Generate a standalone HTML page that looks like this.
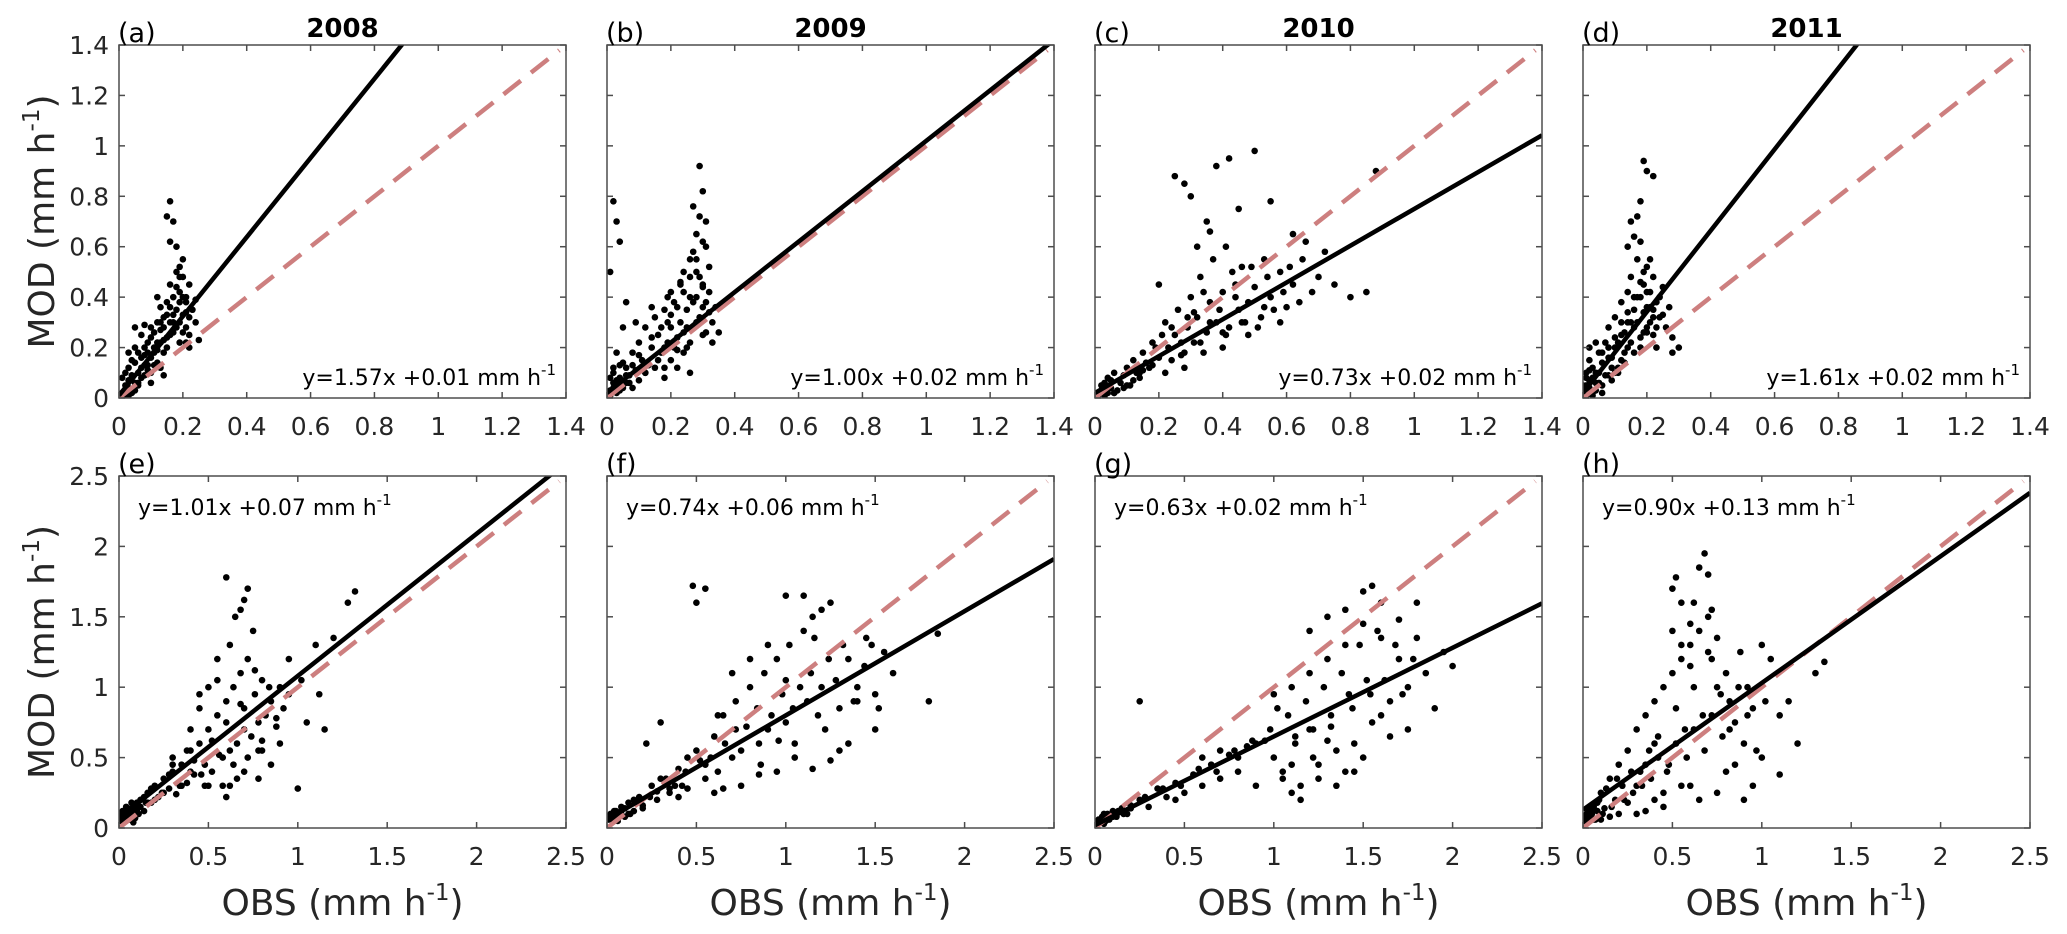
<!DOCTYPE html>
<html><head><meta charset="utf-8"><style>
html,body{margin:0;padding:0;background:#fff;}
svg{display:block;font-family:"DejaVu Sans","Liberation Sans",sans-serif;}
</style></head><body>
<svg id="fig" width="2067" height="934" viewBox="0 0 2067 934" xmlns="http://www.w3.org/2000/svg"></svg>
<script>
// ---- data ----
const years = ["2008","2009","2010","2011"];
const panelLetters = ["(a)","(b)","(c)","(d)","(e)","(f)","(g)","(h)"];
const slopes = [1.57,1.00,0.73,1.61,1.01,0.74,0.63,0.90];
const intercepts = [0.01,0.02,0.02,0.02,0.07,0.06,0.02,0.13];
const eqLabels = ["y=1.57x +0.01 mm h","y=1.00x +0.02 mm h","y=0.73x +0.02 mm h","y=1.61x +0.02 mm h","y=1.01x +0.07 mm h","y=0.74x +0.06 mm h","y=0.63x +0.02 mm h","y=0.90x +0.13 mm h"];
const topTicks = [0,0.2,0.4,0.6,0.8,1,1.2,1.4];
const topTickLabels = ["0","0.2","0.4","0.6","0.8","1","1.2","1.4"];
const botTicks = [0,0.5,1,1.5,2,2.5];
const botTickLabels = ["0","0.5","1","1.5","2","2.5"];
const topMax = 1.4, botMax = 2.5;

const obsA=[0.01,0.02,0.02,0.03,0.03,0.04,0.04,0.05,0.05,0.06,0.06,0.07,0.07,0.08,0.08,0.09,0.09,0.10,0.10,0.11,0.11,0.12,0.12,0.13,0.13,0.14,0.14,0.15,0.15,0.16,0.16,0.17,0.17,0.18,0.18,0.19,0.19,0.20,0.20,0.21,0.21,0.22,0.22,0.23,0.24,0.25,0.15,0.16,0.17,0.16,0.18,0.19,0.20,0.21,0.12,0.08,0.05,0.03,0.01,0.02,0.10,0.14,0.22,0.24,0.19,0.13,
0.02,0.03,0.04,0.05,0.06,0.07,0.08,0.09,0.10,0.11,0.12,0.13,0.14,0.15,0.16,0.17,0.18,0.19,0.20,0.21,0.03,0.05,0.07,0.09,0.11,0.13,0.15,0.17,0.19,0.21,0.04,0.06,0.08,0.10,0.12,0.14,0.16,0.18,0.20,0.22];
const modA=[0.02,0.05,0.10,0.04,0.12,0.08,0.15,0.06,0.20,0.10,0.18,0.12,0.25,0.09,0.17,0.22,0.13,0.28,0.16,0.20,0.26,0.14,0.30,0.22,0.36,0.18,0.28,0.33,0.24,0.45,0.30,0.40,0.26,0.35,0.50,0.30,0.42,0.33,0.55,0.28,0.38,0.45,0.25,0.35,0.30,0.23,0.72,0.78,0.70,0.62,0.60,0.52,0.48,0.40,0.40,0.29,0.28,0.18,0.08,0.01,0.06,0.09,0.20,0.39,0.22,0.12,
0.03,0.07,0.02,0.14,0.05,0.16,0.20,0.11,0.24,0.18,0.22,0.27,0.32,0.20,0.36,0.30,0.28,0.38,0.26,0.34,0.01,0.03,0.08,0.18,0.13,0.30,0.38,0.33,0.48,0.22,0.09,0.06,0.13,0.10,0.19,0.23,0.25,0.44,0.40,0.32];
const obsB=[0.01,0.02,0.03,0.02,0.04,0.05,0.05,0.06,0.07,0.08,0.09,0.10,0.10,0.11,0.12,0.13,0.14,0.15,0.15,0.16,0.17,0.18,0.19,0.20,0.20,0.21,0.22,0.23,0.24,0.25,0.25,0.26,0.27,0.28,0.28,0.29,0.30,0.30,0.31,0.32,0.33,0.34,0.28,0.29,0.30,0.31,0.27,0.26,0.29,0.31,0.02,0.03,0.04,0.01,0.06,0.08,0.12,0.18,0.22,0.24,0.26,0.33,0.35,0.03,0.05,0.09,0.14,0.19,0.23,0.27,0.30,0.32,
0.01,0.02,0.03,0.04,0.05,0.06,0.07,0.01,0.02,0.03,0.04,0.06,0.08,0.10,0.12,0.14,0.16,0.18,0.20,0.22,0.24,0.26,0.28,0.30,0.32,0.17,0.19,0.21,0.23,0.25,0.27,0.29,0.31,0.22,0.26,0.28,0.30,0.24,0.20,0.18];
const modB=[0.03,0.06,0.02,0.10,0.08,0.14,0.04,0.12,0.09,0.18,0.11,0.22,0.07,0.15,0.28,0.13,0.20,0.32,0.12,0.25,0.18,0.35,0.22,0.28,0.15,0.38,0.24,0.30,0.42,0.20,0.35,0.48,0.28,0.40,0.55,0.32,0.45,0.25,0.38,0.52,0.30,0.36,0.65,0.72,0.82,0.60,0.76,0.55,0.92,0.70,0.78,0.70,0.62,0.50,0.38,0.04,0.10,0.08,0.12,0.18,0.10,0.22,0.26,0.18,0.28,0.30,0.36,0.40,0.46,0.58,0.44,0.34,
0.01,0.04,0.07,0.03,0.05,0.09,0.06,0.08,0.12,0.05,0.13,0.06,0.13,0.17,0.10,0.24,0.15,0.20,0.33,0.19,0.26,0.22,0.30,0.36,0.42,0.28,0.30,0.20,0.45,0.28,0.38,0.48,0.26,0.36,0.40,0.50,0.62,0.50,0.42,0.12];
const obsC=[0.01,0.02,0.03,0.04,0.05,0.06,0.08,0.10,0.12,0.14,0.15,0.17,0.18,0.20,0.22,0.23,0.25,0.26,0.28,0.29,0.30,0.31,0.32,0.33,0.35,0.36,0.37,0.38,0.40,0.41,0.42,0.44,0.45,0.46,0.48,0.50,0.52,0.54,0.55,0.58,0.60,0.62,0.65,0.68,0.70,0.75,0.80,0.85,0.88,0.25,0.28,0.30,0.35,0.38,0.42,0.45,0.50,0.55,0.62,0.66,0.72,0.06,0.10,0.14,0.18,0.22,0.27,0.33,0.40,0.47,0.53,0.58,0.32,0.36,0.20,
0.01,0.02,0.03,0.04,0.05,0.07,0.09,0.11,0.13,0.16,0.19,0.21,0.24,0.27,0.29,0.31,0.34,0.36,0.39,0.41,0.43,0.46,0.49,0.51,0.53,0.56,0.59,0.61,0.64,0.03,0.06,0.09,0.12,0.15,0.24,0.28,0.34,0.40,0.44,0.48];
const modC=[0.02,0.05,0.01,0.08,0.04,0.10,0.06,0.12,0.15,0.08,0.18,0.12,0.22,0.16,0.30,0.20,0.25,0.35,0.18,0.28,0.40,0.22,0.32,0.48,0.26,0.38,0.55,0.30,0.42,0.60,0.28,0.45,0.35,0.52,0.38,0.44,0.32,0.48,0.40,0.50,0.36,0.45,0.55,0.42,0.48,0.45,0.40,0.42,0.90,0.88,0.85,0.80,0.70,0.92,0.95,0.75,0.98,0.78,0.65,0.62,0.58,0.02,0.05,0.10,0.13,0.10,0.17,0.22,0.26,0.30,0.36,0.30,0.60,0.66,0.45,
0.01,0.03,0.06,0.02,0.07,0.03,0.09,0.05,0.10,0.14,0.20,0.25,0.15,0.22,0.32,0.34,0.18,0.30,0.35,0.25,0.50,0.30,0.52,0.28,0.55,0.35,0.42,0.52,0.38,0.00,0.02,0.04,0.07,0.11,0.28,0.12,0.42,0.20,0.40,0.25];
const obsD=[0.00,0.01,0.01,0.02,0.02,0.03,0.03,0.04,0.05,0.05,0.06,0.07,0.08,0.08,0.09,0.10,0.10,0.11,0.12,0.12,0.13,0.14,0.14,0.15,0.15,0.16,0.16,0.17,0.17,0.18,0.18,0.19,0.19,0.20,0.20,0.21,0.21,0.22,0.22,0.23,0.24,0.25,0.26,0.27,0.28,0.30,0.18,0.19,0.20,0.22,0.15,0.17,0.16,0.14,0.02,0.04,0.06,0.09,0.11,0.13,0.18,0.20,0.23,0.25,0.28,0.01,0.03,
0.00,0.01,0.01,0.02,0.02,0.03,0.04,0.05,0.06,0.07,0.08,0.09,0.10,0.11,0.12,0.13,0.14,0.15,0.16,0.17,0.18,0.19,0.20,0.21,0.22,0.23,0.24,0.18,0.20,0.22,0.16,0.14,0.12,0.10,0.08,0.06,0.04,0.02,0.19,0.21];
const modD=[0.02,0.10,0.05,0.15,0.03,0.08,0.12,0.06,0.18,0.10,0.14,0.22,0.09,0.28,0.16,0.20,0.32,0.12,0.25,0.38,0.18,0.30,0.42,0.22,0.48,0.28,0.35,0.55,0.30,0.40,0.62,0.26,0.45,0.36,0.52,0.30,0.42,0.48,0.25,0.38,0.32,0.44,0.28,0.36,0.24,0.20,0.78,0.94,0.90,0.88,0.70,0.72,0.64,0.60,0.20,0.22,0.05,0.07,0.10,0.14,0.20,0.26,0.20,0.33,0.18,0.01,0.02,
0.05,0.01,0.08,0.04,0.11,0.01,0.03,0.06,0.02,0.09,0.16,0.12,0.10,0.22,0.15,0.26,0.20,0.30,0.18,0.40,0.24,0.34,0.28,0.36,0.32,0.28,0.40,0.46,0.42,0.35,0.40,0.34,0.30,0.24,0.20,0.18,0.10,0.07,0.50,0.55];
const obsE=[0.01,0.02,0.03,0.04,0.05,0.06,0.07,0.08,0.10,0.12,0.14,0.16,0.18,0.20,0.22,0.25,0.28,0.30,0.32,0.35,0.38,0.40,0.42,0.45,0.48,0.50,0.52,0.55,0.58,0.60,0.62,0.64,0.66,0.68,0.70,0.72,0.74,0.76,0.78,0.80,0.82,0.85,0.88,0.90,0.92,0.95,1.00,1.05,1.10,1.15,1.20,1.28,1.32,0.60,0.65,0.68,0.70,0.72,0.55,0.62,0.75,0.45,0.50,0.40,0.58,0.66,0.80,0.85,0.90,0.30,0.35,0.25,0.15,0.05,0.08,0.10,1.02,0.95,1.12,0.60,0.70,0.78,0.48,
0.01,0.02,0.03,0.04,0.05,0.06,0.07,0.08,0.09,0.10,0.11,0.12,0.14,0.16,0.18,0.20,0.24,0.28,0.34,0.38,0.42,0.46,0.52,0.56,0.60,0.64,0.68,0.72,0.76,0.80,0.84,0.88,0.45,0.55,0.62,0.70,0.78,0.50,0.40,0.30];
const modE=[0.05,0.10,0.08,0.15,0.12,0.06,0.18,0.10,0.14,0.20,0.12,0.25,0.18,0.30,0.22,0.35,0.28,0.40,0.24,0.45,0.32,0.55,0.38,0.60,0.45,0.70,0.40,0.80,0.50,0.90,0.55,1.00,0.60,1.10,0.70,1.20,0.65,0.95,0.75,1.05,0.80,0.90,0.72,1.00,0.85,0.95,0.28,0.75,1.30,0.70,1.35,1.60,1.68,1.78,1.50,1.55,1.62,1.70,1.20,1.30,1.40,0.85,1.00,0.70,0.30,0.35,0.55,0.45,0.60,0.50,0.30,0.25,0.18,0.10,0.04,0.12,1.05,1.20,0.95,0.22,0.40,0.35,0.30,
0.08,0.12,0.05,0.10,0.14,0.09,0.12,0.16,0.07,0.18,0.10,0.15,0.22,0.18,0.28,0.20,0.25,0.38,0.30,0.55,0.48,0.38,0.62,0.52,0.75,0.45,0.88,0.50,1.12,0.62,1.00,0.78,0.95,1.05,0.30,0.85,0.55,0.30,0.40,0.45];
const obsF=[0.02,0.04,0.05,0.07,0.08,0.10,0.12,0.15,0.18,0.20,0.25,0.28,0.30,0.35,0.40,0.42,0.45,0.50,0.55,0.60,0.62,0.65,0.70,0.72,0.75,0.80,0.85,0.88,0.90,0.95,1.00,1.02,1.05,1.10,1.12,1.15,1.20,1.22,1.25,1.30,1.35,1.40,1.45,1.50,1.55,1.60,1.80,1.85,0.48,0.50,0.55,0.30,0.22,1.20,1.10,1.00,0.90,0.80,0.70,1.30,1.40,1.50,0.60,0.55,0.45,0.40,0.35,0.15,0.12,0.06,1.05,0.95,0.85,1.25,1.35,1.15,0.75,0.65,
0.01,0.02,0.03,0.04,0.05,0.06,0.08,0.10,0.13,0.16,0.20,0.24,0.28,0.33,0.38,0.44,0.52,0.58,0.66,0.72,0.78,0.84,0.92,0.98,1.04,1.08,1.14,1.18,1.24,1.28,1.32,1.38,1.44,1.48,1.52,0.62,0.86,1.00,1.16,0.96];
const modF=[0.08,0.05,0.12,0.10,0.15,0.08,0.18,0.12,0.22,0.16,0.30,0.20,0.35,0.25,0.42,0.30,0.50,0.55,0.35,0.65,0.40,0.80,0.50,0.90,0.55,1.00,0.60,1.10,0.70,1.20,0.75,1.30,0.60,1.40,0.90,1.50,1.00,0.70,1.60,0.85,1.20,1.00,1.35,0.95,1.25,1.10,0.90,1.38,1.72,1.60,1.70,0.75,0.60,1.55,1.65,1.65,1.30,1.20,1.10,0.55,0.90,0.70,0.25,0.45,0.28,0.22,0.28,0.20,0.10,0.05,0.50,0.40,0.38,0.48,0.60,0.42,0.30,0.28,
0.06,0.10,0.08,0.12,0.07,0.10,0.12,0.14,0.10,0.18,0.14,0.22,0.26,0.35,0.30,0.40,0.48,0.50,0.60,0.70,0.72,0.85,0.80,0.95,0.85,1.00,1.10,0.80,1.20,1.05,1.30,0.90,1.15,1.30,0.85,0.80,0.45,1.05,1.35,0.62];
const obsG=[0.02,0.04,0.05,0.07,0.08,0.10,0.12,0.15,0.18,0.20,0.25,0.30,0.35,0.40,0.45,0.50,0.55,0.60,0.65,0.70,0.75,0.80,0.85,0.90,0.95,1.00,1.02,1.05,1.10,1.12,1.15,1.20,1.22,1.25,1.30,1.32,1.35,1.40,1.42,1.45,1.50,1.52,1.55,1.60,1.65,1.70,1.75,1.80,1.85,1.90,1.95,2.00,1.50,1.55,1.60,1.40,1.30,1.20,1.70,1.80,1.00,0.90,0.80,0.70,0.60,0.25,0.45,1.10,1.25,1.35,1.45,1.65,1.75,1.15,1.05,
0.01,0.02,0.03,0.04,0.05,0.06,0.08,0.10,0.13,0.16,0.20,0.28,0.38,0.48,0.58,0.68,0.78,0.88,0.98,1.08,1.12,1.18,1.22,1.28,1.32,1.38,1.44,1.48,1.54,1.58,1.62,1.68,1.72,1.78,1.40,1.50,1.30,1.20,1.60,1.10];
const modG=[0.05,0.08,0.03,0.10,0.06,0.12,0.08,0.14,0.10,0.16,0.20,0.15,0.28,0.22,0.32,0.25,0.38,0.30,0.45,0.35,0.52,0.40,0.58,0.30,0.62,0.50,0.85,0.40,1.00,0.60,0.30,1.10,0.70,0.45,1.20,0.80,0.55,1.30,0.95,0.60,1.45,1.05,0.75,1.35,0.90,1.20,1.00,1.35,1.10,0.85,1.25,1.15,1.68,1.72,1.60,1.55,1.50,1.40,1.48,1.60,0.95,0.60,0.50,0.55,0.50,0.90,0.20,0.25,0.35,0.30,0.40,0.65,0.70,0.20,0.35,
0.02,0.06,0.04,0.07,0.10,0.05,0.09,0.08,0.12,0.10,0.14,0.22,0.28,0.30,0.42,0.40,0.55,0.62,0.70,0.80,0.65,0.90,0.50,1.00,0.72,1.10,0.85,1.30,0.95,1.40,1.05,1.30,0.95,1.20,0.40,0.50,0.62,0.70,0.80,0.45];
const obsH=[0.01,0.02,0.03,0.04,0.05,0.06,0.08,0.10,0.12,0.15,0.18,0.20,0.22,0.25,0.28,0.30,0.32,0.35,0.38,0.40,0.42,0.45,0.48,0.50,0.52,0.55,0.58,0.60,0.62,0.65,0.68,0.70,0.72,0.75,0.78,0.80,0.82,0.85,0.88,0.90,0.92,0.95,1.00,1.05,1.10,1.15,1.20,1.30,1.35,0.50,0.52,0.55,0.60,0.65,0.68,0.70,0.72,0.45,0.40,0.35,0.30,0.25,0.20,0.15,0.10,0.60,0.80,0.90,1.00,1.10,0.95,0.85,0.75,0.65,0.55,
0.01,0.02,0.03,0.04,0.05,0.06,0.07,0.08,0.09,0.11,0.13,0.16,0.19,0.23,0.27,0.33,0.37,0.42,0.47,0.52,0.57,0.62,0.67,0.72,0.77,0.82,0.87,0.92,0.97,1.02,0.50,0.55,0.60,0.62,0.70,0.75,0.45,0.40,0.35,0.30];
const modH=[0.05,0.10,0.08,0.15,0.12,0.06,0.18,0.25,0.14,0.35,0.20,0.45,0.30,0.55,0.25,0.70,0.40,0.80,0.35,0.90,0.50,1.00,0.45,1.10,0.60,1.20,0.50,1.30,0.70,1.40,0.55,1.50,0.80,1.35,0.65,1.10,0.90,0.75,1.25,0.60,1.00,0.85,1.30,1.20,0.80,0.90,0.60,1.10,1.18,1.70,1.78,1.60,1.45,1.85,1.95,1.80,1.55,0.15,0.20,0.12,0.10,0.18,0.10,0.08,0.06,0.30,0.40,0.20,0.50,0.38,0.30,0.45,0.25,0.20,0.30,
0.08,0.04,0.12,0.07,0.10,0.15,0.06,0.12,0.20,0.10,0.28,0.15,0.35,0.20,0.40,0.30,0.55,0.65,0.40,0.85,0.70,1.00,0.80,1.20,0.95,0.70,1.00,0.80,0.55,0.90,1.40,1.30,1.15,1.60,1.25,1.00,0.25,0.60,0.45,0.30];
const obsAll=[obsA,obsB,obsC,obsD,obsE,obsF,obsG,obsH];
const modAll=[modA,modB,modC,modD,modE,modF,modG,modH];

// ---- layout ----
const NS="http://www.w3.org/2000/svg";
const svg=document.getElementById('fig');
const lefts=[119,607,1095,1583], W=447;
const rows=[{top:45,bottom:398},{top:476,bottom:828}];
function mk(tag,attrs,parent){const e=document.createElementNS(NS,tag);for(const k in attrs)e.setAttribute(k,attrs[k]);(parent||svg).appendChild(e);return e;}
function txt(str,attrs,parent){const t=mk('text',attrs,parent);t.textContent=str;return t;}

for(let p=0;p<8;p++){
  const r=p<4?0:1, c=p%4;
  const L=lefts[c], R=L+W, T=rows[r].top, B=rows[r].bottom;
  const max=r===0?topMax:botMax;
  const ticks=r===0?topTicks:botTicks, tlab=r===0?topTickLabels:botTickLabels;
  const sx=v=>L+v/max*(R-L), sy=v=>B-v/max*(B-T);
  const g=mk('g',{});
  
  
  const cp=mk('clipPath',{id:'clip'+p},g);
  mk('rect',{x:L,y:T,width:W,height:B-T},cp);
  const pg=mk('g',{'clip-path':'url(#clip'+p+')'},g);
  
  
  const xs=obsAll[p], ys=modAll[p], n=Math.min(xs.length,ys.length);
  for(let i=0;i<n;i++){
    const d=mk('circle',{cx:sx(xs[i]),cy:sy(ys[i]),r:3.3,fill:'#000'},pg);
    
    
  }
  const one=mk('line',{x1:sx(0),y1:sy(0),x2:sx(max*0.985),y2:sy(max*0.985),stroke:'#cd7f7f','stroke-width':4.5,'stroke-dasharray':'22,13','clip-path':'url(#clip'+p+')'},g);
  
  
  const fit=mk('line',{x1:sx(0),y1:sy(intercepts[p]),x2:sx(max),y2:sy(intercepts[p]+slopes[p]*max),stroke:'#000','stroke-width':4.5,'clip-path':'url(#clip'+p+')'},g);
  
  
  const box=mk('rect',{x:L,y:T,width:W,height:B-T,fill:'none',stroke:'#4d4d4d','stroke-width':1.5},g);
  
  
  ticks.forEach((v,i)=>{
    const x=sx(v), y=sy(v);
    mk('line',{x1:x,y1:B,x2:x,y2:B-6,stroke:'#4d4d4d','stroke-width':1.5},g);
    mk('line',{x1:x,y1:T,x2:x,y2:T+6,stroke:'#4d4d4d','stroke-width':1.5},g);
    mk('line',{x1:L,y1:y,x2:L+6,y2:y,stroke:'#4d4d4d','stroke-width':1.5},g);
    mk('line',{x1:R,y1:y,x2:R-6,y2:y,stroke:'#4d4d4d','stroke-width':1.5},g);
    const xl=txt(tlab[i],{x:x,y:B+37,'font-size':25,'text-anchor':'middle',fill:'#262626'},g);
    
    
    if(c===0){
      const yl=txt(tlab[i],{x:L-10,y:y+9,'font-size':25,'text-anchor':'end',fill:'#262626'},g);
      
      
    }
  });
  const pl=txt(panelLetters[p],{x:L-1,y:T-3,'font-size':27,fill:'#000'},g);
  
  
  if(r===0){
    const tt=txt(years[c],{x:(L+R)/2,y:37,'font-size':26,'font-weight':'bold','text-anchor':'middle',fill:'#000'},g);
    
    
  }
  const eqAttrs=r===0?{x:R-10,y:B-13,'text-anchor':'end'}:{x:L+19,y:T+39,'text-anchor':'start'};
  eqAttrs['font-size']=22; eqAttrs.fill='#000';
  const eq=txt('',eqAttrs,g);
  
  
  const s1=mk('tspan',{},eq); s1.textContent=eqLabels[p];
  const s2=mk('tspan',{dy:-10,'font-size':15},eq); s2.textContent='-1';
  if(r===1){
    const xt=txt('',{x:(L+R)/2,y:915,'font-size':36,'text-anchor':'middle',fill:'#262626'},g);
    
    
    const a=mk('tspan',{},xt); a.textContent='OBS (mm h';
    const b=mk('tspan',{dy:-15,'font-size':23},xt); b.textContent='-1';
    const cc=mk('tspan',{dy:15},xt); cc.textContent=')';
  }
  if(c===0){
    const cy=(T+B)/2;
    const yt=txt('',{x:0,y:0,'font-size':36,'text-anchor':'middle',fill:'#262626',transform:`translate(54,${cy}) rotate(-90)`},g);
    
    
    const a=mk('tspan',{},yt); a.textContent='MOD (mm h';
    const b=mk('tspan',{dy:-15,'font-size':23},yt); b.textContent='-1';
    const cc=mk('tspan',{dy:15},yt); cc.textContent=')';
  }
}
</script>
</body></html>
